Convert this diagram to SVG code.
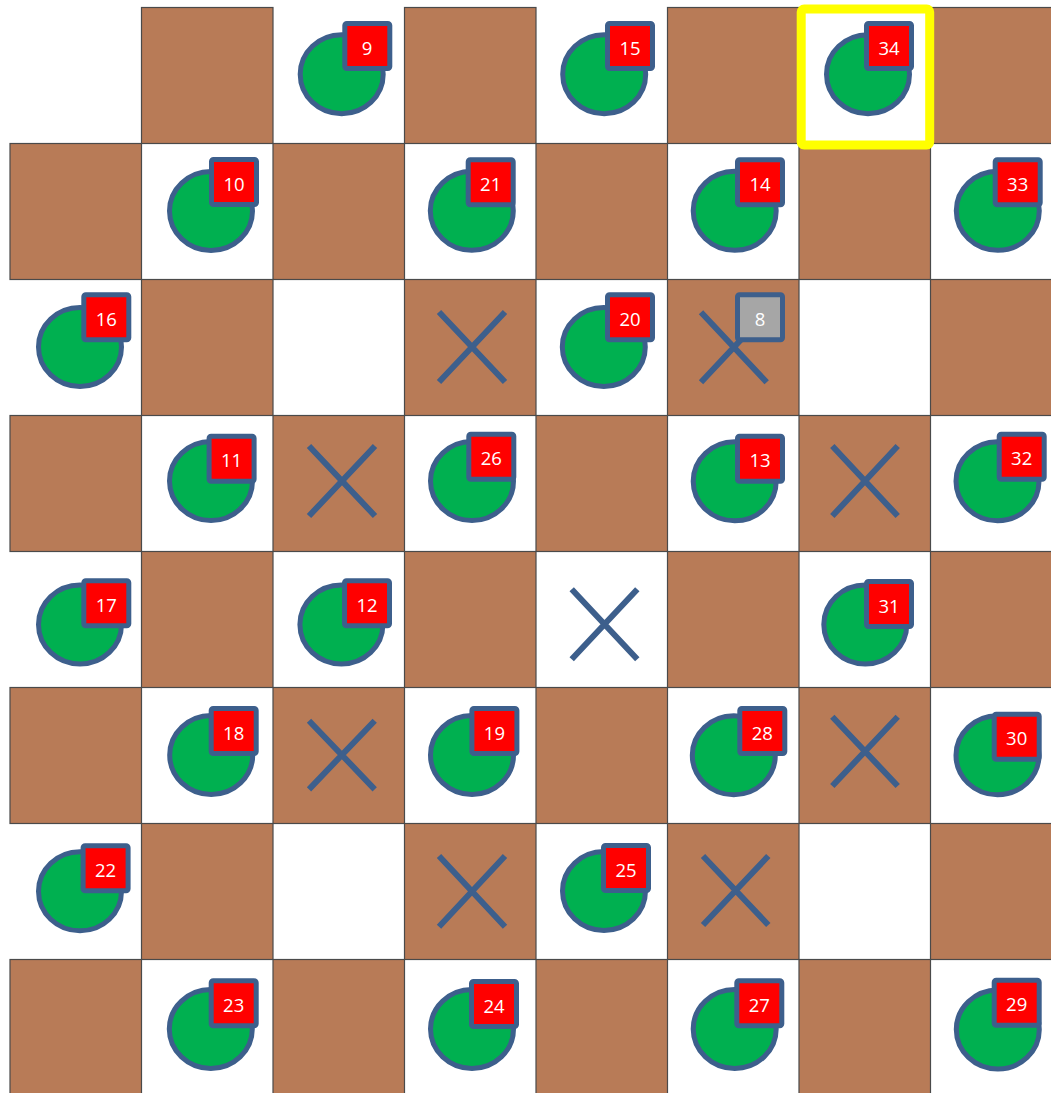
<svg xmlns="http://www.w3.org/2000/svg" width="1051" height="1093" viewBox="0 0 1051 1093">
<style>
.b{fill:#B87B57;stroke:#4a4a4a;stroke-width:1.2}
.c{fill:#00B050;stroke:#3D5F8C;stroke-width:5}
.s{fill:#FF0000;stroke:#3D5F8C;stroke-width:5}
.g{fill:#A6A6A6;stroke:#3D5F8C;stroke-width:5}
.x{stroke:#3D5F8C;stroke-width:6;fill:none}
.t{fill:#FFFFFF;font-family:'Open Sans','Noto Sans',sans-serif;font-size:18.5px;text-anchor:middle}
</style>
<rect x="0" y="0" width="1051" height="1093" fill="#FFFFFF"/>
<g id="board">
<rect class="b" x="141.5" y="7.5" width="131.5" height="136"/>
<rect class="b" x="404.5" y="7.5" width="131.5" height="136"/>
<rect class="b" x="667.5" y="7.5" width="131.5" height="136"/>
<rect class="b" x="930.5" y="7.5" width="131.5" height="136"/>
<rect class="b" x="10" y="143.5" width="131.5" height="136"/>
<rect class="b" x="273" y="143.5" width="131.5" height="136"/>
<rect class="b" x="536" y="143.5" width="131.5" height="136"/>
<rect class="b" x="799" y="143.5" width="131.5" height="136"/>
<rect class="b" x="141.5" y="279.5" width="131.5" height="136"/>
<rect class="b" x="404.5" y="279.5" width="131.5" height="136"/>
<rect class="b" x="667.5" y="279.5" width="131.5" height="136"/>
<rect class="b" x="930.5" y="279.5" width="131.5" height="136"/>
<rect class="b" x="10" y="415.5" width="131.5" height="136"/>
<rect class="b" x="273" y="415.5" width="131.5" height="136"/>
<rect class="b" x="536" y="415.5" width="131.5" height="136"/>
<rect class="b" x="799" y="415.5" width="131.5" height="136"/>
<rect class="b" x="141.5" y="551.5" width="131.5" height="136"/>
<rect class="b" x="404.5" y="551.5" width="131.5" height="136"/>
<rect class="b" x="667.5" y="551.5" width="131.5" height="136"/>
<rect class="b" x="930.5" y="551.5" width="131.5" height="136"/>
<rect class="b" x="10" y="687.5" width="131.5" height="136"/>
<rect class="b" x="273" y="687.5" width="131.5" height="136"/>
<rect class="b" x="536" y="687.5" width="131.5" height="136"/>
<rect class="b" x="799" y="687.5" width="131.5" height="136"/>
<rect class="b" x="141.5" y="823.5" width="131.5" height="136"/>
<rect class="b" x="404.5" y="823.5" width="131.5" height="136"/>
<rect class="b" x="667.5" y="823.5" width="131.5" height="136"/>
<rect class="b" x="930.5" y="823.5" width="131.5" height="136"/>
<rect class="b" x="10" y="959.5" width="131.5" height="136"/>
<rect class="b" x="273" y="959.5" width="131.5" height="136"/>
<rect class="b" x="536" y="959.5" width="131.5" height="136"/>
<rect class="b" x="799" y="959.5" width="131.5" height="136"/>
</g>
<g id="highlight"><rect x="801.2" y="9" width="128.5" height="136" rx="3" fill="none" stroke="#FFFF00" stroke-width="9"/></g>
<g id="crosses">
<g id="x-3-2"><path class="x" d="M439 312L505 382M505 312L439 382"/></g>
<g id="x-5-2"><path class="x" d="M701 312.3L766.7 382.3M766.7 312.3L701 382.3"/></g>
<g id="x-2-3"><path class="x" d="M309 446L375 516M375 446L309 516"/></g>
<g id="x-6-3"><path class="x" d="M832.3 446L897.7 516M897.7 446L832.3 516"/></g>
<g id="x-4-4"><path class="x" d="M571.7 589.3L637.3 659.3M637.3 589.3L571.7 659.3"/></g>
<g id="x-2-5"><path class="x" d="M309 720.7L374.7 789.3M374.7 720.7L309 789.3"/></g>
<g id="x-6-5"><path class="x" d="M832.3 716.7L897.7 786M897.7 716.7L832.3 786"/></g>
<g id="x-3-6"><path class="x" d="M439 856L505 926.7M505 856L439 926.7"/></g>
<g id="x-5-6"><path class="x" d="M703 856L768.3 925M768.3 856L703 925"/></g>
</g>
<g id="p9"><ellipse class="c" cx="341.7" cy="74.2" rx="41.5" ry="39.5"/><rect class="s" x="344.8" y="23.5" width="45" height="45" rx="2"/><text class="t" x="367" y="54.7">9</text></g>
<g id="p15"><ellipse class="c" cx="604.2" cy="74.2" rx="41.5" ry="39.5"/><rect class="s" x="607.5" y="23.5" width="45" height="45" rx="2"/><text class="t" x="630" y="54.7">15</text></g>
<g id="p34"><ellipse class="c" cx="868" cy="74.2" rx="41.5" ry="39.5"/><rect class="s" x="866.5" y="23.5" width="45" height="45" rx="2"/><text class="t" x="889" y="54.7">34</text></g>
<g id="p10"><ellipse class="c" cx="211" cy="211" rx="41.5" ry="39.5"/><rect class="s" x="211.5" y="159.5" width="45" height="45" rx="2"/><text class="t" x="234" y="190.7">10</text></g>
<g id="p21"><ellipse class="c" cx="471.8" cy="210.8" rx="41.5" ry="39.5"/><rect class="s" x="468.2" y="159.8" width="45" height="45" rx="2"/><text class="t" x="490.7" y="191">21</text></g>
<g id="p14"><ellipse class="c" cx="734.7" cy="210.8" rx="41.5" ry="39.5"/><rect class="s" x="737.5" y="159.8" width="45" height="45" rx="2"/><text class="t" x="760" y="191">14</text></g>
<g id="p33"><ellipse class="c" cx="997.8" cy="210.8" rx="41.5" ry="39.5"/><rect class="s" x="995.2" y="159.8" width="45" height="45" rx="2"/><text class="t" x="1017.7" y="191">33</text></g>
<g id="p16"><ellipse class="c" cx="80" cy="347" rx="41.5" ry="39.5"/><rect class="s" x="83.8" y="294.8" width="45" height="45" rx="2"/><text class="t" x="106.3" y="326">16</text></g>
<g id="p20"><ellipse class="c" cx="603.8" cy="347" rx="41.5" ry="39.5"/><rect class="s" x="607.5" y="294.8" width="45" height="45" rx="2"/><text class="t" x="630" y="326">20</text></g>
<g id="p8"><rect class="g" x="737.5" y="294.8" width="45" height="45" rx="2"/><text class="t" x="760" y="326">8</text></g>
<g id="p11"><ellipse class="c" cx="211" cy="481" rx="41.5" ry="39.5"/><rect class="s" x="209.1" y="436.2" width="45" height="45" rx="2"/><text class="t" x="231.6" y="467.4">11</text></g>
<g id="p26"><ellipse class="c" cx="472" cy="481" rx="41.5" ry="39.5"/><rect class="s" x="468.8" y="434.2" width="45" height="45" rx="2"/><text class="t" x="491.3" y="465.4">26</text></g>
<g id="p13"><ellipse class="c" cx="734.7" cy="481.3" rx="41.5" ry="39.5"/><rect class="s" x="737.5" y="436.2" width="45" height="45" rx="2"/><text class="t" x="760" y="467.4">13</text></g>
<g id="p32"><ellipse class="c" cx="997.5" cy="481.3" rx="41.5" ry="39.5"/><rect class="s" x="999.2" y="434.2" width="45" height="45" rx="2"/><text class="t" x="1021.7" y="465.4">32</text></g>
<g id="p17"><ellipse class="c" cx="80" cy="624.5" rx="41.5" ry="39.5"/><rect class="s" x="83.8" y="580.8" width="45" height="45" rx="2"/><text class="t" x="106.3" y="612">17</text></g>
<g id="p12"><ellipse class="c" cx="341.4" cy="624.5" rx="41.5" ry="39.5"/><rect class="s" x="344.5" y="580.8" width="45" height="45" rx="2"/><text class="t" x="367" y="612">12</text></g>
<g id="p31"><ellipse class="c" cx="865.3" cy="624.5" rx="41.5" ry="39.5"/><rect class="s" x="866.5" y="581.5" width="45" height="45" rx="2"/><text class="t" x="889" y="612.7">31</text></g>
<g id="p18"><ellipse class="c" cx="211.2" cy="755" rx="41.5" ry="39.5"/><rect class="s" x="211.2" y="708.5" width="45" height="45" rx="2"/><text class="t" x="233.7" y="739.7">18</text></g>
<g id="p19"><ellipse class="c" cx="472" cy="755" rx="41.5" ry="39.5"/><rect class="s" x="471.9" y="708.5" width="45" height="45" rx="2"/><text class="t" x="494.4" y="739.7">19</text></g>
<g id="p28"><ellipse class="c" cx="733.8" cy="755.3" rx="41.5" ry="39.5"/><rect class="s" x="739.8" y="708.5" width="45" height="45" rx="2"/><text class="t" x="762.3" y="739.7">28</text></g>
<g id="p30"><ellipse class="c" cx="997.5" cy="755.3" rx="41.5" ry="39.5"/><rect class="s" x="994.2" y="714.2" width="45" height="45" rx="2"/><text class="t" x="1016.7" y="745.4">30</text></g>
<g id="p22"><ellipse class="c" cx="80" cy="891.3" rx="41.5" ry="39.5"/><rect class="s" x="83.1" y="845.8" width="45" height="45" rx="2"/><text class="t" x="105.6" y="877">22</text></g>
<g id="p25"><ellipse class="c" cx="604" cy="891" rx="41.5" ry="39.5"/><rect class="s" x="603.5" y="845.5" width="45" height="45" rx="2"/><text class="t" x="626" y="876.7">25</text></g>
<g id="p23"><ellipse class="c" cx="210.8" cy="1029" rx="41.5" ry="39.5"/><rect class="s" x="211.2" y="980.8" width="45" height="45" rx="2"/><text class="t" x="233.7" y="1012">23</text></g>
<g id="p24"><ellipse class="c" cx="472" cy="1029" rx="41.5" ry="39.5"/><rect class="s" x="471.5" y="981.5" width="45" height="45" rx="2"/><text class="t" x="494" y="1012.7">24</text></g>
<g id="p27"><ellipse class="c" cx="734.7" cy="1029" rx="41.5" ry="39.5"/><rect class="s" x="736.8" y="980.8" width="45" height="45" rx="2"/><text class="t" x="759.3" y="1012">27</text></g>
<g id="p29"><ellipse class="c" cx="997.8" cy="1029.5" rx="41.5" ry="39.5"/><rect class="s" x="994.2" y="980.2" width="45" height="45" rx="2"/><text class="t" x="1016.7" y="1011.4">29</text></g>
</svg>
